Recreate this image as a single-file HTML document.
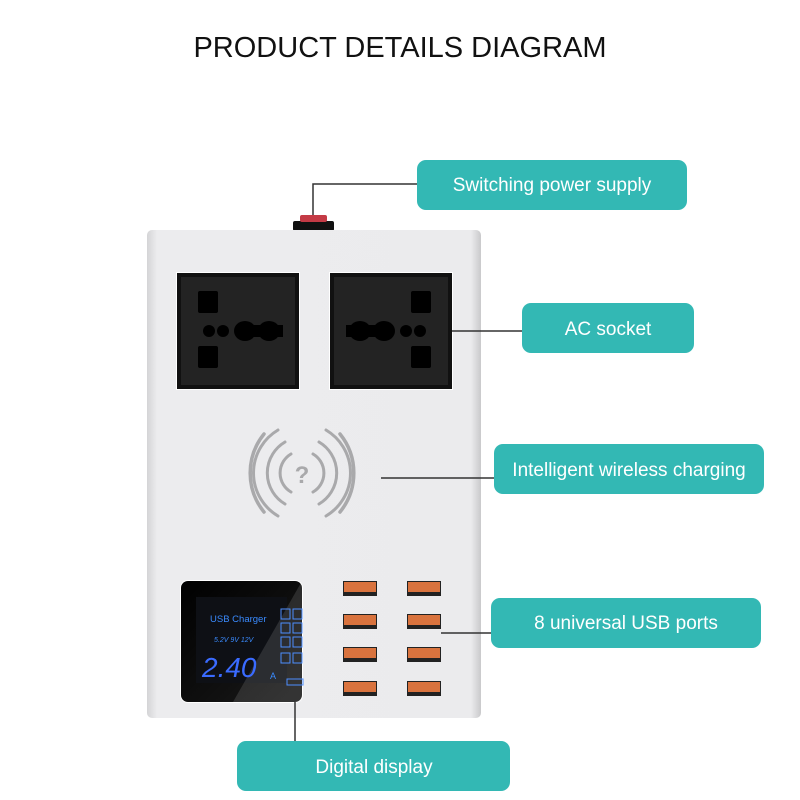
<!DOCTYPE html>
<html><head><meta charset="utf-8"><style>
html,body{margin:0;padding:0;background:#fff;width:800px;height:800px;overflow:hidden}
svg{display:block}
text{font-family:"Liberation Sans",sans-serif}
</style></head><body>
<svg width="800" height="800" viewBox="0 0 800 800" xmlns="http://www.w3.org/2000/svg">
<defs>
<linearGradient id="body" x1="0" x2="1" y1="0" y2="0">
<stop offset="0" stop-color="#d4d4d6"/><stop offset="0.03" stop-color="#ececee"/><stop offset="0.97" stop-color="#ebebed"/><stop offset="1" stop-color="#c9c9cb"/>
</linearGradient>
<linearGradient id="lcd" x1="0" x2="1" y1="0" y2="1">
<stop offset="0" stop-color="#000"/><stop offset="1" stop-color="#1a1a1a"/>
</linearGradient>
</defs>
<text x="400" y="57" text-anchor="middle" font-size="29" fill="#111">PRODUCT DETAILS DIAGRAM</text>

<!-- switch -->
<rect x="293" y="221" width="41" height="10" rx="2" fill="#111"/>
<rect x="300" y="215" width="27" height="7" rx="2" fill="#c43a45"/>

<!-- body -->
<rect x="147" y="230" width="334" height="488" rx="5" fill="url(#body)"/>

<!-- sockets -->
<g>
<rect x="176" y="272" width="124" height="118" fill="#fff"/>
<rect x="177" y="273" width="122" height="116" fill="#111"/>
<rect x="181" y="277" width="114" height="108" fill="#232323"/>
<g fill="#000">
<rect x="198" y="291" width="20" height="22" rx="2"/>
<rect x="198" y="346" width="20" height="22" rx="2"/>
<circle cx="209" cy="331" r="6"/><circle cx="223" cy="331" r="6"/>
<ellipse cx="245" cy="331" rx="11" ry="10"/><ellipse cx="269" cy="331" rx="11" ry="10"/>
<rect x="243" y="325" width="40" height="12"/>
</g>
<rect x="329" y="272" width="124" height="118" fill="#fff"/>
<rect x="330" y="273" width="122" height="116" fill="#111"/>
<rect x="334" y="277" width="114" height="108" fill="#232323"/>
<g fill="#000">
<rect x="411" y="291" width="20" height="22" rx="2"/>
<rect x="411" y="346" width="20" height="22" rx="2"/>
<circle cx="420" cy="331" r="6"/><circle cx="406" cy="331" r="6"/>
<ellipse cx="384" cy="331" rx="11" ry="10"/><ellipse cx="360" cy="331" rx="11" ry="10"/>
<rect x="346" y="325" width="40" height="12"/>
</g>
</g>

<!-- wireless -->
<g fill="none" stroke="#a9a9ab" stroke-width="3" stroke-linecap="round">
<path d="M291,454 A22,22 0 0 0 291,492"/><path d="M313,454 A22,22 0 0 1 313,492"/>
<path d="M285,442 A36,36 0 0 0 285,504"/><path d="M319,442 A36,36 0 0 1 319,504"/>
<path d="M278,430 A50,50 0 0 0 278,516"/><path d="M326,430 A50,50 0 0 1 326,516"/>
<path d="M264,434 A62,62 0 0 0 264,512" stroke-width="3.5"/><path d="M340,434 A62,62 0 0 1 340,512" stroke-width="3.5"/>
</g>
<text x="302" y="483" text-anchor="middle" font-size="24" font-weight="bold" fill="#a9a9ab" font-family="Liberation Serif,serif">?</text>

<!-- LCD -->
<rect x="180" y="580" width="123" height="123" rx="8" fill="#fff"/>
<rect x="181" y="581" width="121" height="121" rx="7" fill="url(#lcd)"/>
<rect x="196" y="597" width="91" height="86" fill="#0e1015"/>
<polygon points="233,702 302,581 302,702" fill="#fff" opacity="0.12"/>
<text x="210" y="622" font-size="9.5" fill="#3a8bff">USB Charger</text>
<text x="214" y="642" font-size="7" font-style="italic" fill="#3a8bff">5.2V 9V 12V</text>
<text x="202" y="677" font-size="28" font-style="italic" fill="#3a6bff" font-family="Liberation Mono,monospace">2.40</text>
<text x="270" y="679" font-size="9" fill="#3a8bff">A</text>
<g fill="none" stroke="#4d8eff" stroke-width="1">
<rect x="281" y="609" width="9" height="10"/><rect x="293" y="609" width="9" height="10"/>
<rect x="281" y="623" width="9" height="10"/><rect x="293" y="623" width="9" height="10"/>
<rect x="281" y="637" width="9" height="10"/><rect x="293" y="637" width="9" height="10"/>
<rect x="281" y="653" width="9" height="10"/><rect x="293" y="653" width="9" height="10"/>
<rect x="287" y="679" width="16" height="6"/>
</g>

<!-- USB ports -->
<g>
<g fill="#222">
<rect x="343" y="581" width="34" height="15"/><rect x="407" y="581" width="34" height="15"/>
<rect x="343" y="614" width="34" height="15"/><rect x="407" y="614" width="34" height="15"/>
<rect x="343" y="647" width="34" height="15"/><rect x="407" y="647" width="34" height="15"/>
<rect x="343" y="681" width="34" height="15"/><rect x="407" y="681" width="34" height="15"/>
</g>
<g fill="#d9733e">
<rect x="344" y="582" width="32" height="10"/><rect x="408" y="582" width="32" height="10"/>
<rect x="344" y="615" width="32" height="10"/><rect x="408" y="615" width="32" height="10"/>
<rect x="344" y="648" width="32" height="10"/><rect x="408" y="648" width="32" height="10"/>
<rect x="344" y="682" width="32" height="10"/><rect x="408" y="682" width="32" height="10"/>
</g>
</g>

<!-- connectors -->
<g stroke="#333" stroke-width="1.5" fill="none">
<polyline points="313,215 313,184 418,184"/>
<line x1="452" y1="331" x2="523" y2="331"/>
<line x1="381" y1="478" x2="495" y2="478"/>
<line x1="441" y1="633" x2="492" y2="633"/>
<line x1="295" y1="702" x2="295" y2="741"/>
</g>

<!-- labels -->
<g fill="#33b8b4">
<rect x="417" y="160" width="270" height="50" rx="9"/>
<rect x="522" y="303" width="172" height="50" rx="9"/>
<rect x="494" y="444" width="270" height="50" rx="9"/>
<rect x="491" y="598" width="270" height="50" rx="9"/>
<rect x="237" y="741" width="273" height="50" rx="9"/>
</g>
<g fill="#fff" font-size="19" text-anchor="middle">
<text x="552" y="191">Switching power supply</text>
<text x="608" y="335">AC socket</text>
<text x="629" y="476">Intelligent wireless charging</text>
<text x="626" y="629">8 universal USB ports</text>
<text x="374" y="773">Digital display</text>
</g>
</svg>
</body></html>
